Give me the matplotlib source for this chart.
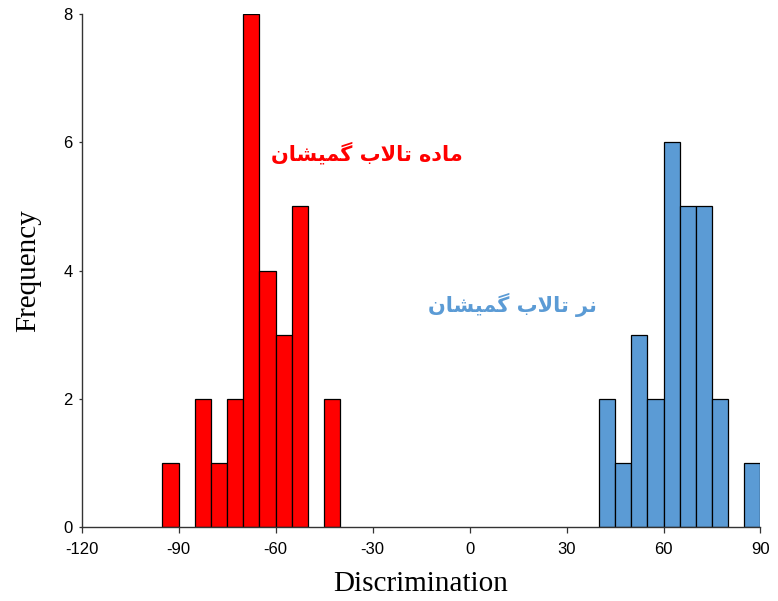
import matplotlib.pyplot as plt
import numpy as np

plt.rcParams['axes.unicode_minus'] = False

# ---- data: histogram bins (left edges, width 5) and counts ----
bin_width = 5
female_left = [-95, -90, -85, -80, -75, -70, -65, -60, -55, -50, -45]
female_count = [1, 0, 2, 1, 2, 8, 4, 3, 5, 0, 2]
male_left = [40, 45, 50, 55, 60, 65, 70, 75, 80, 85]
male_count = [2, 1, 3, 2, 6, 5, 5, 2, 0, 1]

# Persian labels written in presentation forms, visual order (no shaping in mpl)
female_label = "ﻥﺎﺸﯿﻤﮔ ﺏﻻﺎﺗ ﻩﺩﺎﻣ"   # ماده تالاب گمیشان
male_label = "ﻥﺎﺸﯿﻤﮔ ﺏﻻﺎﺗ ﺮﻧ"       # نر تالاب گمیشان

xticks = [-120, -90, -60, -30, 0, 30, 60, 90]
yticks = [0, 2, 4, 6, 8]

red = '#FF0000'
blue = '#5B9BD5'

fig = plt.figure(figsize=(7.78, 6.01), dpi=100)
ax = fig.add_axes([0.1048, 0.1231, 0.8727, 0.8536])

fl = np.array(female_left); fc = np.array(female_count)
ml = np.array(male_left); mc = np.array(male_count)
ax.bar(fl[fc > 0], fc[fc > 0], width=bin_width, align='edge',
       color=red, edgecolor='black', linewidth=0.9)
ax.bar(ml[mc > 0], mc[mc > 0], width=bin_width, align='edge',
       color=blue, edgecolor='black', linewidth=0.9)

ax.set_xlim(-120, 90)
ax.set_ylim(0, 8)
ax.set_xticks(xticks)
ax.set_yticks(yticks)
for s in ['top', 'right']:
    ax.spines[s].set_visible(False)
for s in ['left', 'bottom']:
    ax.spines[s].set_color('#333333')
    ax.spines[s].set_linewidth(1.0)
ax.tick_params(axis='both', width=0.9, color='#333333', labelsize=12)
ax.tick_params(axis='x', length=4, pad=7)
ax.tick_params(axis='y', length=2.5, pad=4)
for lab in ax.get_xticklabels() + ax.get_yticklabels():
    lab.set_fontfamily('Liberation Sans')

ax.set_xlabel('Discrimination', fontfamily='Liberation Serif', fontsize=21, labelpad=10)
ax.set_ylabel('Frequency', fontfamily='Liberation Serif', fontsize=21, labelpad=16)

ax.text(-31.7, 5.83, female_label, color=red, fontsize=15, fontweight='bold',
        ha='center', va='center', family=['DejaVu Sans'])
ax.text(13.2, 3.46, male_label, color=blue, fontsize=15, fontweight='bold',
        ha='center', va='center', family=['DejaVu Sans'])

fig.savefig('out.png', dpi=100)
